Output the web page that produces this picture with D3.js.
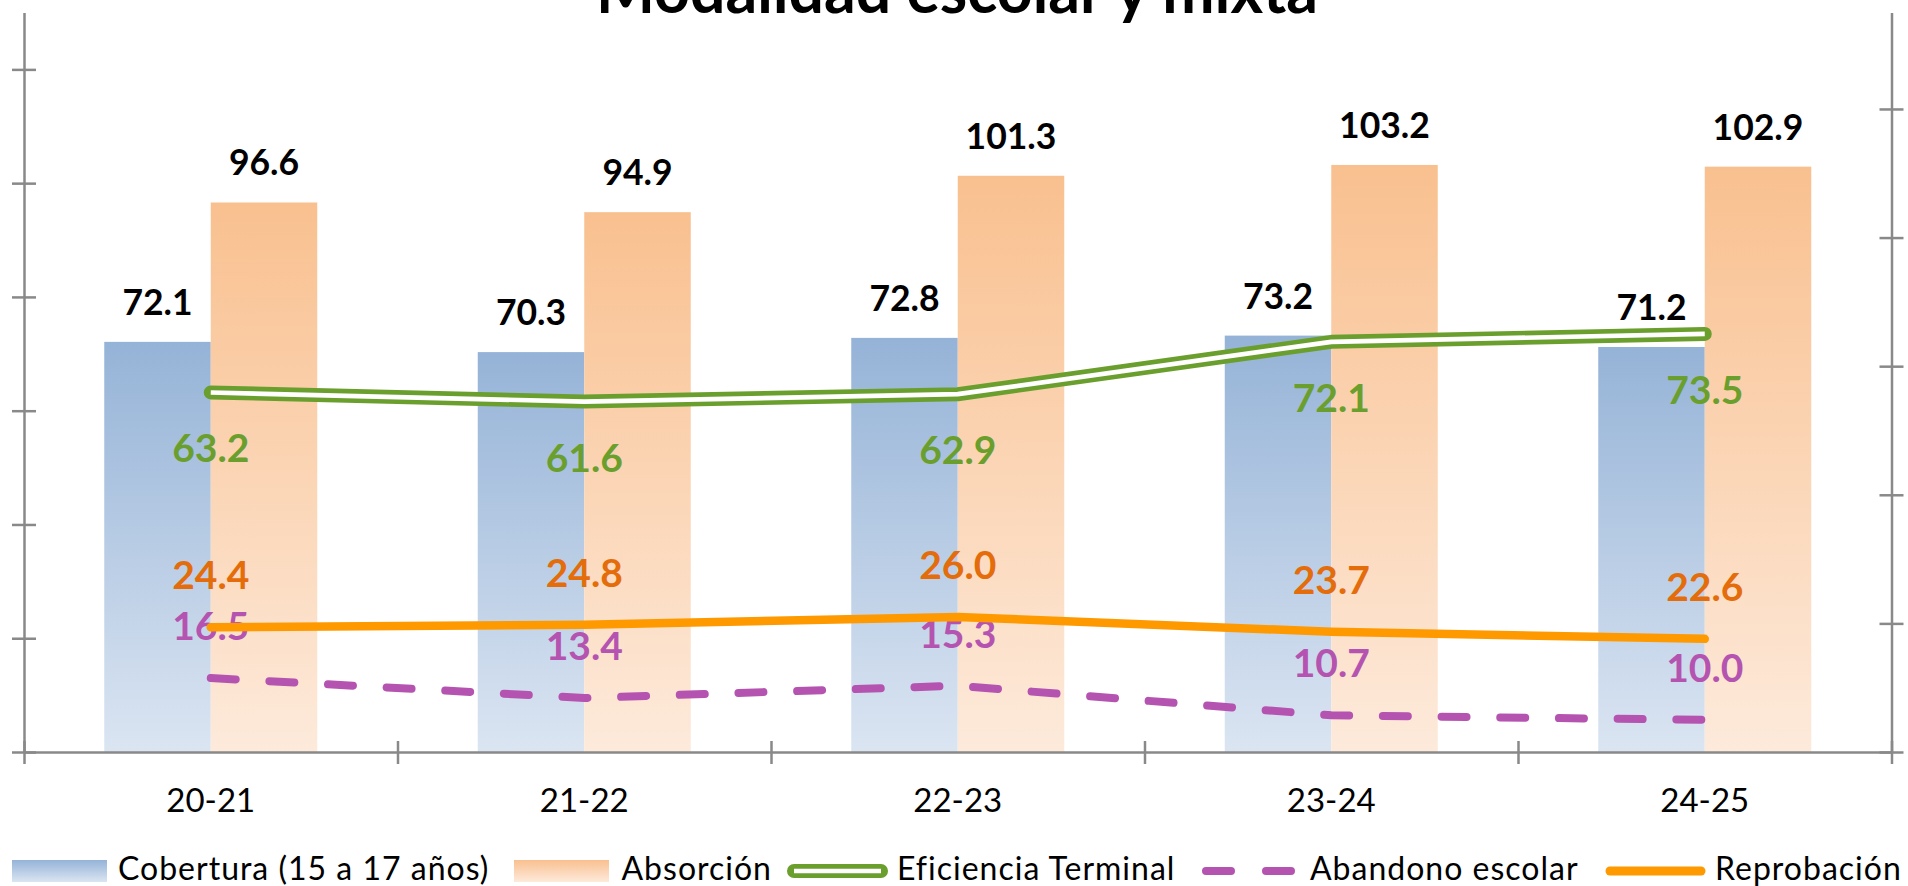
<!DOCTYPE html>
<html><head><meta charset="utf-8">
<script src="https://cdn.jsdelivr.net/npm/d3@7"></script>
<style>html,body{margin:0;padding:0;background:#fff;overflow:hidden}</style>
</head><body><svg id="c" width="1908" height="886"></svg>
<script>
const categories = ["20-21","21-22","22-23","23-24","24-25"];
const cobertura = [72.1,70.3,72.8,73.2,71.2];
const absorcion = [96.6,94.9,101.3,103.2,102.9];
const eficiencia = [63.2,61.6,62.9,72.1,73.5];
const abandono = [16.5,13.4,15.3,10.7,10.0];
const reprobacion = [24.4,24.8,26.0,23.7,22.6];
const leftTicks = [0,20,40,60,80,100,120];
const rightTicks = [5,25,45,65,85,105];
const legendLabels = ["Cobertura (15 a 17 años)","Absorción","Eficiencia Terminal","Abandono escolar","Reprobación"];
const title = "Modalidad escolar y mixta";

const FONT = "Lato, 'Open Sans', sans-serif";
const AX = "#898989";
const GREEN = "#6a9f2e", PURPLE = "#b553b0", ORANGE = "#ff9900", ORANGE_LBL = "#e46c0a";

const svg = d3.select("#c");
const plotTop = 12.5, plotBottom = 752, plotLeft = 24, plotRight = 1891.5;

const x = d3.scaleBand().domain(categories).range([plotLeft, plotRight]).padding(0);
const xs = d3.scaleBand().domain(["cob","abs"]).range([0, x.bandwidth()]).paddingInner(0).paddingOuter(0.7535);
const xb = d3.scaleLinear().domain([0, categories.length]).range([plotLeft, plotRight]);
const y = d3.scaleLinear().domain([0,130]).range([plotBottom, plotTop]);
const y2 = d3.scaleLinear().domain([5,120]).range([plotBottom, plotTop]);
const cx = c => x(c) + x.bandwidth()/2;

// gradients
const defs = svg.append("defs");
function grad(id, c0, c1){
  const g = defs.append("linearGradient").attr("id", id).attr("x1",0).attr("y1",0).attr("x2",0).attr("y2",1);
  g.append("stop").attr("offset","0%").attr("stop-color",c0);
  g.append("stop").attr("offset","100%").attr("stop-color",c1);
}
grad("gCob", "#95b3d7", "#dbe5f2");
grad("gAbs", "#f9c08f", "#fdeadb");

// bars
const barData = [];
categories.forEach((c,i)=>{
  barData.push({c, key:"cob", v:cobertura[i]});
  barData.push({c, key:"abs", v:absorcion[i]});
});
svg.append("g").selectAll("rect").data(barData).join("rect")
  .attr("x", d => x(d.c) + xs(d.key))
  .attr("width", xs.bandwidth())
  .attr("y", d => y(d.v))
  .attr("height", d => plotBottom - y(d.v))
  .attr("fill", d => d.key === "cob" ? "url(#gCob)" : "url(#gAbs)");

// axes
function styleAxis(g){
  g.selectAll("path.domain").attr("stroke", AX).attr("stroke-width", 2.5);
  g.selectAll(".tick line").attr("stroke", AX).attr("stroke-width", 2.5);
  g.selectAll(".tick text").remove();
}
const gl = svg.append("g").attr("transform", `translate(${plotLeft},0)`)
  .call(d3.axisLeft(y).tickValues(leftTicks).tickSizeInner(12).tickSizeOuter(0).tickFormat(""));
gl.selectAll(".tick line").attr("x1", 12);
styleAxis(gl);
const gr = svg.append("g").attr("transform", `translate(${plotRight},0)`)
  .call(d3.axisRight(y2).tickValues(rightTicks).tickSizeInner(12).tickSizeOuter(0).tickFormat(""));
gr.selectAll(".tick line").attr("x1", -12);
styleAxis(gr);
const gb = svg.append("g").attr("transform", `translate(0,${plotBottom})`)
  .call(d3.axisBottom(xb).ticks(categories.length).tickSizeInner(12).tickSizeOuter(0).tickFormat(""));
gb.selectAll(".tick line").attr("y1", -11);
styleAxis(gb);
const gc = svg.append("g").attr("transform", `translate(0,${plotBottom})`)
  .call(d3.axisBottom(x).tickSize(0).tickPadding(0));
gc.select("path.domain").remove();
gc.selectAll(".tick text").attr("font-family", FONT).attr("font-size", 33).attr("fill", "#000")
  .attr("dy", null).attr("y", 60);

// bar labels
svg.append("g").selectAll("text").data(barData).join("text")
  .attr("x", d => x(d.c) + xs(d.key) + xs.bandwidth()/2)
  .attr("y", d => y(d.v) - 27)
  .attr("text-anchor","middle").attr("font-family",FONT).attr("font-weight",700)
  .attr("font-size",35.5).attr("fill","#000")
  .text(d => d.v.toFixed(1));

// lines
const lineP = d3.line().x((d,i)=>cx(categories[i])).y(d=>y(d));
const lineS = d3.line().x((d,i)=>cx(categories[i])).y(d=>y2(d));

svg.append("path").attr("d", lineP(eficiencia)).attr("fill","none").attr("stroke",GREEN)
  .attr("stroke-width",14).attr("stroke-linecap","round").attr("stroke-linejoin","round");
svg.append("path").attr("d", lineP(eficiencia)).attr("fill","none").attr("stroke","#fff")
  .attr("stroke-width",4.7).attr("stroke-linecap","butt").attr("stroke-linejoin","round");

function labels(vals, sc, dy, color){
  svg.append("g").selectAll("text").data(vals).join("text")
    .attr("x", (d,i)=>cx(categories[i]))
    .attr("y", d => sc(d) + dy)
    .attr("text-anchor","middle").attr("font-family",FONT).attr("font-weight",700)
    .attr("font-size",39).attr("fill",color)
    .text(d => d.toFixed(1));
}
labels(eficiencia, y, 70, GREEN);

svg.append("path").attr("d", lineS(abandono)).attr("fill","none").attr("stroke",PURPLE)
  .attr("stroke-width",8).attr("stroke-linecap","round").attr("stroke-dasharray","25 33.7");
labels(abandono, y2, -38, PURPLE);

svg.append("path").attr("d", lineS(reprobacion)).attr("fill","none").attr("stroke",ORANGE)
  .attr("stroke-width",8.5).attr("stroke-linecap","round").attr("stroke-linejoin","round");
labels(reprobacion, y2, -38, ORANGE_LBL);

// title
svg.append("text").attr("x",957).attr("y",13).attr("text-anchor","middle")
  .attr("font-family",FONT).attr("font-weight",700).attr("font-size",62.5).attr("fill","#000")
  .text(title);

// legend
const lg = svg.append("g");
const LY = 871, LTY = 880, LFS = 32;
lg.append("rect").attr("x",12).attr("y",860).attr("width",95).attr("height",22).attr("fill","url(#gCob)");
lg.append("rect").attr("x",514).attr("y",860).attr("width",95).attr("height",22).attr("fill","url(#gAbs)");
lg.append("line").attr("x1",794).attr("x2",881).attr("y1",LY).attr("y2",LY).attr("stroke",GREEN)
  .attr("stroke-width",14).attr("stroke-linecap","round");
lg.append("line").attr("x1",794).attr("x2",881).attr("y1",LY).attr("y2",LY).attr("stroke","#fff")
  .attr("stroke-width",4.7);
lg.append("line").attr("x1",1206).attr("x2",1291).attr("y1",LY).attr("y2",LY).attr("stroke",PURPLE)
  .attr("stroke-width",8).attr("stroke-linecap","round").attr("stroke-dasharray","25 35");
lg.append("line").attr("x1",1610).attr("x2",1701).attr("y1",LY).attr("y2",LY).attr("stroke",ORANGE)
  .attr("stroke-width",9).attr("stroke-linecap","round");
const ltx = [118, 621.5, 897, 1310, 1715];
lg.selectAll("text.lt").data(legendLabels).join("text").attr("class","lt")
  .attr("x",(d,i)=>ltx[i]).attr("y",LTY)
  .attr("font-family",FONT).attr("font-size",LFS).attr("letter-spacing",1).attr("fill","#000")
  .text(d=>d);
</script></body></html>
